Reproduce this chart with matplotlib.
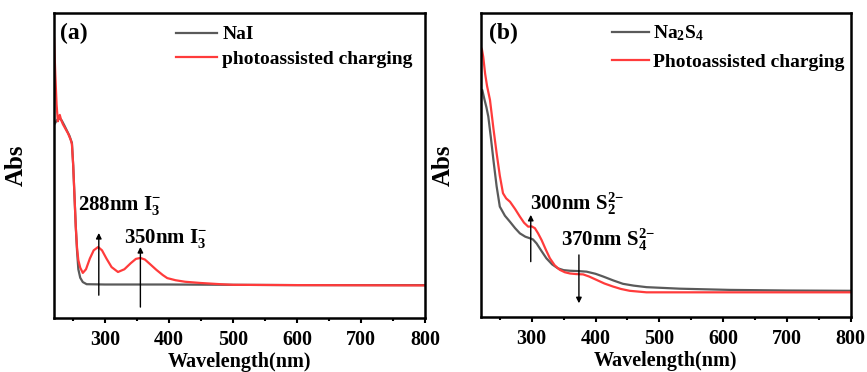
import numpy as np
import matplotlib.pyplot as plt
from matplotlib.ticker import MultipleLocator

plt.rcParams['font.family'] = ['Liberation Serif', 'DejaVu Serif']
plt.rcParams['font.weight'] = 'bold'
plt.rcParams['mathtext.fontset'] = 'custom'
plt.rcParams['mathtext.rm'] = 'Liberation Serif:bold'
plt.rcParams['mathtext.it'] = 'Liberation Serif:bold'
plt.rcParams['mathtext.bf'] = 'Liberation Serif:bold'

# panel (a): NaI vs photoassisted charging (arbitrary absorbance units)
wl_a_red = [220, 222, 224, 226, 228, 229, 231, 234, 238, 242, 246, 248, 250, 252, 254, 256, 258, 261,
            265, 270, 276, 282, 289, 295, 302, 310, 320, 330, 340, 348, 355, 362, 370, 380, 390, 397,
            410, 425, 449, 480, 500, 600, 800]
abs_a_red = [0.918, 0.80, 0.70, 0.645, 0.660, 0.666, 0.650, 0.635, 0.620, 0.605, 0.585, 0.570, 0.500,
             0.400, 0.300, 0.230, 0.190, 0.165, 0.148, 0.160, 0.195, 0.222, 0.233, 0.222, 0.195, 0.167,
             0.151, 0.160, 0.180, 0.194, 0.197, 0.192, 0.177, 0.158, 0.141, 0.131, 0.124, 0.119, 0.115,
             0.111, 0.109, 0.108, 0.107]
wl_a_gray = [220, 222, 225, 229, 232, 236, 240, 244, 248, 250, 252, 254, 256, 258, 261, 265, 271, 300,
             400, 500, 600, 800]
abs_a_gray = [0.633, 0.640, 0.650, 0.655, 0.648, 0.632, 0.615, 0.598, 0.574, 0.500, 0.400, 0.300,
              0.220, 0.160, 0.132, 0.118, 0.111, 0.110, 0.110, 0.109, 0.108, 0.108]

# panel (b): Na2S4 vs photoassisted charging
wl_b_red = [220, 222, 224, 227, 230, 234.6, 240, 245, 250, 255, 260, 266, 274, 281.5, 288, 294.5, 300,
            305, 310, 315.5, 322, 328.5, 336, 344, 352, 360, 370, 380.6, 390, 401.5, 414, 427.5, 440,
            453.6, 480, 600, 800]
abs_b_red = [0.889, 0.880, 0.856, 0.800, 0.760, 0.714, 0.620, 0.539, 0.465, 0.407, 0.390, 0.379, 0.355,
             0.330, 0.310, 0.297, 0.298, 0.292, 0.275, 0.253, 0.222, 0.193, 0.170, 0.155, 0.147, 0.143,
             0.141, 0.140, 0.133, 0.122, 0.110, 0.100, 0.092, 0.086, 0.081, 0.081, 0.081]
wl_b_gray = [220, 222.5, 226, 229, 232, 236, 240, 245, 250, 258, 266, 274, 281.5, 290, 297, 302, 307.6,
             315, 323, 332, 341, 350, 360, 372, 386, 400, 412, 428, 443, 460, 480, 532, 610, 700, 800]
abs_b_gray = [0.730, 0.747, 0.715, 0.690, 0.659, 0.590, 0.516, 0.430, 0.363, 0.333, 0.313, 0.292, 0.275,
              0.264, 0.259, 0.255, 0.242, 0.218, 0.193, 0.173, 0.160, 0.154, 0.152, 0.151, 0.149, 0.142,
              0.133, 0.120, 0.109, 0.103, 0.098, 0.093, 0.089, 0.087, 0.086]

gray = '#5a5a5a'
red = '#ff3b3b'

fig = plt.figure(figsize=(8.67, 3.72), dpi=100)
ax1 = fig.add_axes([0.0623, 0.145, 0.428, 0.820])
ax2 = fig.add_axes([0.5544, 0.148, 0.4268, 0.817])


def style(ax):
    ax.set_xlim(220, 800)
    ax.set_ylim(0, 1)
    ax.set_yticks([])
    ax.xaxis.set_minor_locator(MultipleLocator(50))
    ax.set_xticks([300, 400, 500, 600, 700, 800])
    ax.tick_params(axis='x', which='major', direction='out', length=3.5, width=1.5, pad=5, labelsize=14.5)
    ax.tick_params(axis='x', which='minor', direction='out', length=2, width=1.5)
    for s in ax.spines.values():
        s.set_linewidth(1.8)
    ax.set_xlabel('Wavelength(nm)', fontsize=14.5, fontweight='bold')
    ax.xaxis.set_label_coords(0.5, -0.112)
    ax.set_ylabel('Abs', fontsize=18, fontweight='bold')
    ax.yaxis.set_label_coords(-0.07, 0.5)


arrow = dict(arrowstyle='-|>', color='black', lw=1, mutation_scale=8, shrinkA=0, shrinkB=0)

# (a)
ax1.plot(wl_a_gray, abs_a_gray, color=gray, lw=1.6, label='NaI')
ax1.plot(wl_a_red, abs_a_red, color=red, lw=1.6, label='photoassisted charging')
style(ax1)
ax1.text(230, 0.934, '(a)', fontsize=17, fontweight='bold', va='center', ha='left')
ax1.annotate('', xy=(290, 0.279), xytext=(290, 0.075), arrowprops=arrow)
ax1.annotate('', xy=(355, 0.233), xytext=(355, 0.036), arrowprops=arrow)
ax1.text(257, 0.37, r'288nm I$_3^{\mathbf{-}}$', fontsize=15, fontweight='bold', va='center', ha='left')
ax1.text(330, 0.262, r'350nm I$_3^{\mathbf{-}}$', fontsize=15, fontweight='bold', va='center', ha='left')
ax1.legend(loc='upper left', bbox_to_anchor=(0.33, 0.958), frameon=False, fontsize=14,
           handlelength=2.1, handletextpad=0.25, labelspacing=0.36, borderpad=0, borderaxespad=0)

# (b)
ax2.plot(wl_b_gray, abs_b_gray, color=gray, lw=1.6, label=r'Na$_2$S$_4$')
ax2.plot(wl_b_red, abs_b_red, color=red, lw=1.6, label='Photoassisted charging')
style(ax2)
ax2.text(232.5, 0.933, '(b)', fontsize=17, fontweight='bold', va='center', ha='left')
ax2.annotate('', xy=(298.5, 0.336), xytext=(298.5, 0.182), arrowprops=arrow)
ax2.annotate('', xy=(374, 0.045), xytext=(374, 0.204), arrowprops=arrow)
ax2.text(297, 0.374, r'300nm S$_2^{2\mathbf{-}}$', fontsize=15, fontweight='bold', va='center', ha='left')
ax2.text(346.6, 0.253, r'370nm S$_4^{2\mathbf{-}}$', fontsize=15, fontweight='bold', va='center', ha='left')
ax2.legend(loc='upper left', bbox_to_anchor=(0.354, 0.965), frameon=False, fontsize=14,
           handlelength=1.9, handletextpad=0.25, labelspacing=0.5, borderpad=0, borderaxespad=0)

fig.savefig('out.png', dpi=100)
